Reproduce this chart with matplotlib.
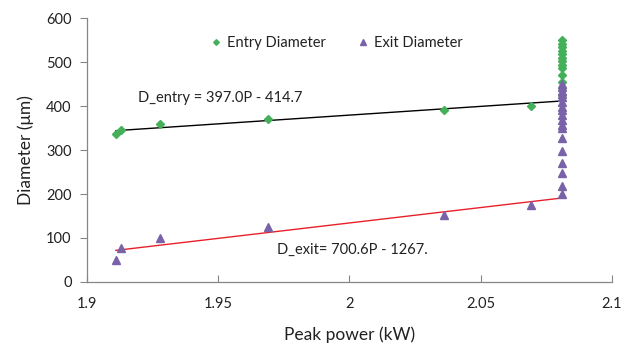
import numpy as np
import matplotlib.pyplot as plt

plt.rcParams['font.family'] = ['Lato', 'DejaVu Sans']

# Data
entry_power = [1.911, 1.913, 1.928, 1.969, 2.036, 2.069,
               2.081, 2.081, 2.081, 2.081, 2.081, 2.081, 2.081,
               2.081, 2.081, 2.081, 2.081, 2.081, 2.081]
entry_diam = [336, 345, 360, 371, 390, 400,
              550, 542, 534, 526, 518, 510, 502,
              494, 486, 470, 455, 440, 425]

exit_power = [1.911, 1.913, 1.928, 1.969, 2.036, 2.069,
              2.081, 2.081, 2.081, 2.081, 2.081, 2.081, 2.081, 2.081, 2.081,
              2.081, 2.081, 2.081, 2.081, 2.081, 2.081, 2.081, 2.081, 2.081]
exit_diam = [51, 77, 100, 124, 152, 175,
             450, 443, 435, 428, 420, 409, 398, 390, 379,
             368, 357, 349, 327, 297, 270, 248, 219, 200]

# Linear fits shown on the chart
entry_fit = (397.0, -414.7)
exit_fit = (700.6, -1267.0)

green, purple = '#45b05a', '#7a62a8'
txt = '#222222'

fig = plt.figure(figsize=(6.28, 3.58), dpi=100)
ax = fig.add_axes([0.1385, 0.2123, 0.836, 0.7374])

ax.plot(entry_power, entry_diam, 'D', color=green, markersize=3.6,
        linestyle='none', label='Entry Diameter', zorder=3)
ax.plot(exit_power, exit_diam, '^', color=purple, markersize=6,
        linestyle='none', label='Exit Diameter', zorder=4)

## Fit lines across the data range
px = np.array([min(entry_power), max(entry_power)])
ax.plot(px, entry_fit[0] * px + entry_fit[1], color='black', linewidth=1, zorder=2)
px = np.array([min(exit_power), max(exit_power)])
ax.plot(px, exit_fit[0] * px + exit_fit[1], color='#e8202a', linewidth=1, zorder=2)

ax.text(1.9195, 418, 'D_entry = 397.0P - 414.7', fontsize=10.5, color=txt,
        va='center', ha='left')
ax.text(1.9725, 72, 'D_exit= 700.6P - 1267.', fontsize=10.5, color=txt,
        va='center', ha='left')

ax.set_xlim(1.9, 2.1)
ax.set_ylim(0, 600)
ax.set_xticks([1.9, 1.95, 2.0, 2.05, 2.1])
ax.set_xticklabels(['1.9', '1.95', '2', '2.05', '2.1'])
ax.set_yticks(range(0, 601, 100))

for s in ['top', 'right']:
    ax.spines[s].set_visible(False)
for s in ['left', 'bottom']:
    ax.spines[s].set_color('#868686')
    ax.spines[s].set_linewidth(0.9)

ax.tick_params(axis='x', direction='in', length=5, color='#868686',
               labelsize=10.5, labelcolor=txt, pad=11)
ax.tick_params(axis='y', direction='out', length=5, color='#868686',
               labelsize=10.5, labelcolor=txt, pad=6)

ax.set_xlabel('Peak power (kW)', fontsize=12.5, color=txt, labelpad=11)
ax.set_ylabel('Diameter (μm)', fontsize=12.5, color=txt, labelpad=9)

ax.legend(loc='center', bbox_to_anchor=(0.474, 0.905), ncol=2, frameon=False,
          fontsize=10.5, handletextpad=0.3, columnspacing=2.0, handlelength=1,
          markerscale=0.8, labelcolor=txt)

fig.savefig('out.png', dpi=100)
